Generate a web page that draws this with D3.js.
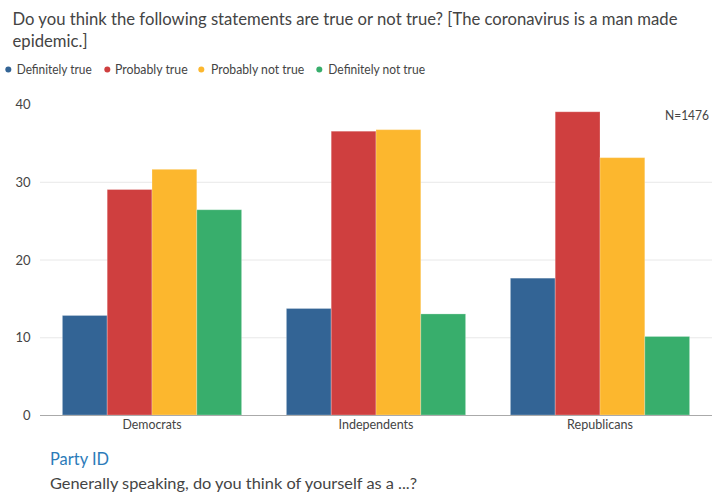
<!DOCTYPE html>
<html><head><meta charset="utf-8">
<script src="https://cdn.jsdelivr.net/npm/d3@7"></script>
<style>body{margin:0;background:#fff;}svg{display:block;font-family:Lato,"Open Sans",sans-serif;}</style>
</head><body><svg id="c" width="725" height="502"></svg>
<script>
const categories = ["Democrats","Independents","Republicans"];
const seriesNames = ["Definitely true","Probably true","Probably not true","Definitely not true"];
const seriesColors = ["#336495","#cf3f3f","#fcb72e","#38ae6c"];
const definitelyTrue = [12.8, 13.7, 17.6];
const probablyTrue = [29.0, 36.5, 39.0];
const probablyNotTrue = [31.6, 36.7, 33.1];
const definitelyNotTrue = [26.4, 13.0, 10.1];
const yTicks = [0,10,20,30,40];
const seriesValues = [definitelyTrue, probablyTrue, probablyNotTrue, definitelyNotTrue];

const svg = d3.select("#c");
const mLeft = 40, mRight = 712, mTop = 104, mBottom = 415;
const x0 = d3.scaleBand().domain(categories).range([mLeft,mRight]).padding(0);
const x1 = d3.scaleBand().domain(seriesNames).range([0,x0.bandwidth()]).paddingInner(0).paddingOuter(0.5);
const y = d3.scaleLinear().domain([0,40]).range([mBottom,mTop]);

function fit(sel, w){ return sel.attr("textLength", w).attr("lengthAdjust","spacingAndGlyphs"); }

// title
fit(svg.append("text").attr("x",12.5).attr("y",25).attr("fill","#444").attr("font-size",16.5)
  .text("Do you think the following statements are true or not true? [The coronavirus is a man made"), 665);
fit(svg.append("text").attr("x",12.5).attr("y",47).attr("fill","#444").attr("font-size",16.5)
  .text("epidemic.]"), 75);

// legend
const legDot = [8.3,107.3,201.3,319.3];
const legText = [16.7,115,211,328.3];
const legW = [75,72.7,93.3,96.7];
seriesNames.forEach((s,i)=>{
  svg.append("circle").attr("cx",legDot[i]).attr("cy",69.5).attr("r",3).attr("fill",seriesColors[i]);
  fit(svg.append("text").attr("x",legText[i]).attr("y",74).attr("font-size",12.5).attr("fill","#444").text(s), legW[i]);
});

// grid
svg.append("g").selectAll("line").data(yTicks.filter(t=>t>0 && t<40)).join("line")
  .attr("x1",mLeft).attr("x2",mRight).attr("y1",d=>y(d)+0.5).attr("y2",d=>y(d)+0.5)
  .attr("stroke","#e8e8e8").attr("stroke-width",1);

// y labels
svg.append("g").selectAll("text").data(yTicks).join("text")
  .attr("x",30.5).attr("y",d=>y(d)+5).attr("text-anchor","end")
  .attr("font-size",13).attr("fill","#444").text(d=>d);

// bars
categories.forEach((c,ci)=>{
  seriesNames.forEach((s,si)=>{
    const v = seriesValues[si][ci];
    svg.append("rect")
      .attr("x",x0(c)+x1(s)).attr("y",y(v))
      .attr("width",x1.bandwidth()).attr("height",mBottom-y(v))
      .attr("fill",seriesColors[si])
      .attr("stroke","rgba(255,255,255,0.25)").attr("stroke-width",1);
  });
});

// axis baseline
svg.append("line").attr("x1",mLeft).attr("x2",mRight).attr("y1",mBottom+0.5).attr("y2",mBottom+0.5).attr("stroke","#aaa");

// x labels
const xLabW = [59,75,66];
svg.append("g").selectAll("text").data(categories).join("text")
  .attr("x",d=>x0(d)+x0.bandwidth()/2).attr("y",428.5).attr("text-anchor","middle")
  .attr("font-size",12.5).attr("fill","#444")
  .attr("textLength",(d,i)=>xLabW[i]).attr("lengthAdjust","spacingAndGlyphs").text(d=>d);

// N label
fit(svg.append("text").attr("x",665).attr("y",120).attr("font-size",12.5).attr("fill","#444").text("N=1476"), 44);

// footer
fit(svg.append("text").attr("x",50).attr("y",464.5).attr("font-size",17).attr("fill","#2b7bb9").text("Party ID"), 59);
fit(svg.append("text").attr("x",50).attr("y",489).attr("font-size",14.5).attr("fill","#444").text("Generally speaking, do you think of yourself as a ...?"), 367);
</script></body></html>
